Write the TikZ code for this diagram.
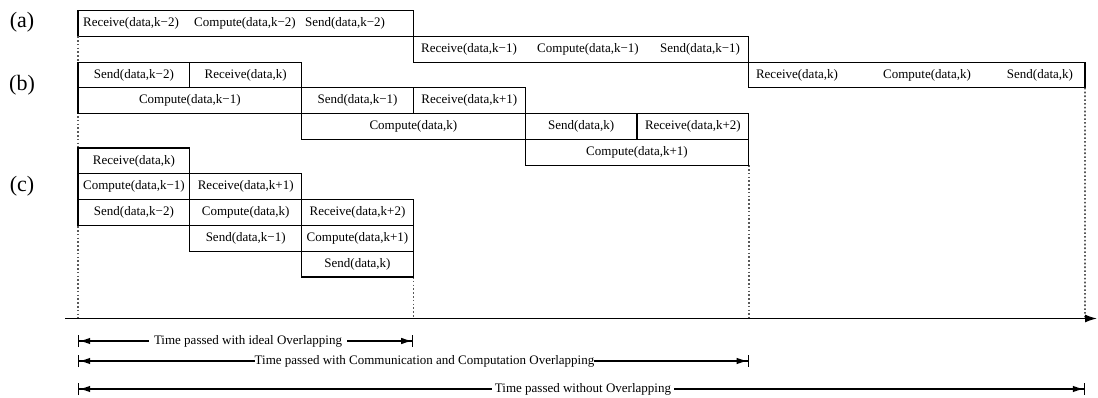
\documentclass[tikz,border=0pt]{standalone}
\usepackage{fontspec}
\setmainfont{Liberation Serif}
\usetikzlibrary{arrows.meta}
\begin{document}
\begin{tikzpicture}[x=1pt,y=-1pt,
  txt/.style={font=\fontsize{13}{15}\selectfont, inner sep=0pt},
  cell/.style={draw, line width=1.1pt, anchor=north west, minimum height=25.8pt,
    inner sep=0pt, outer sep=0pt, font=\fontsize{13}{15}\selectfont},
  one/.style={cell, minimum width=111.8pt},
  two/.style={cell, minimum width=223.6pt},
  three/.style={cell, minimum width=335.4pt},
  part/.style={font=\fontsize{22}{25}\selectfont, inner sep=0pt},
  guide/.style={line width=1.6pt, black!65, dash pattern=on 1.6pt off 2.2pt},
  axis/.style={line width=1.4pt, -{Latex[length=12pt,width=8pt]}},
  span/.style={line width=1.2pt,
    {Bar[width=12pt,line width=1.2pt]Latex[length=11pt,width=6.5pt]}-{Latex[length=11pt,width=6.5pt]Bar[width=12pt,line width=1.2pt]}},
  spanlbl/.style={txt, fill=white, inner ysep=2pt}
]
\useasboundingbox (0,0) rectangle (1098,398);

% time axis and the guide lines that drop onto it
\coordinate (tl0) at (65,318.5);
\coordinate (tl1) at (1097,318.5);
\coordinate (g0) at (78,318.5);
\coordinate (g1) at (413.4,318.5);
\coordinate (g2) at (748.8,318.5);
\coordinate (g3) at (1085,318.5);

% part labels
\node[part] (pa) at (22,22) {(a)};
\node[part] (pb) at (22,85) {(b)};
\node[part] (pc) at (22,186) {(c)};

% (a) no overlapping: one stage after the other
\node[three] (A1) at (78,10.5) {};
\node[three] (A2) at (413.4,36.3) {};
\node[cell, minimum width=336.2pt] (A3) at (748.8,62.1) {};
\node[txt] (a1r) at (131,23.4) {Receive(data,k−2)};
\node[txt] (a1c) at (245,23.4) {Compute(data,k−2)};
\node[txt] (a1s) at (345,23.4) {Send(data,k−2)};
\node[txt] (a2r) at (469,49.2) {Receive(data,k−1)};
\node[txt] (a2c) at (588,49.2) {Compute(data,k−1)};
\node[txt] (a2s) at (700,49.2) {Send(data,k−1)};
\node[txt] (a3r) at (797,75) {Receive(data,k)};
\node[txt] (a3c) at (927,75) {Compute(data,k)};
\node[txt] (a3s) at (1040,75) {Send(data,k)};

% guide lines (drawn before the boxes so the box edges stay solid)
\draw[guide] (A1.south west) -- (g0);
\draw[guide] (A3.south east) -- (g3);
\draw[guide] (748.8,165.3) -- (g2);
\draw[guide] (413.4,277) -- (g1);

% (b) communication overlapped with computation
\node[one] (b1) at (78,62.1) {Send(data,k−2)};
\node[one] (b2) at (189.8,62.1) {Receive(data,k)};
\node[two] (b3) at (78,87.9) {Compute(data,k−1)};
\node[one] (b4) at (301.6,87.9) {Send(data,k−1)};
\node[one] (b5) at (413.4,87.9) {Receive(data,k+1)};
\node[two] (b6) at (301.6,113.7) {Compute(data,k)};
\node[one] (b7) at (525.2,113.7) {Send(data,k)};
\node[one] (b8) at (637,113.7) {Receive(data,k+2)};
\node[two] (b9) at (525.2,139.5) {Compute(data,k+1)};

% (c) ideal overlapping
\node[one] (c1) at (78,148) {Receive(data,k)};
\node[one] (c2) at (78,173.8) {Compute(data,k−1)};
\node[one] (c3) at (189.8,173.8) {Receive(data,k+1)};
\node[one] (c4) at (78,199.6) {Send(data,k−2)};
\node[one] (c5) at (189.8,199.6) {Compute(data,k)};
\node[one] (c6) at (301.6,199.6) {Receive(data,k+2)};
\node[one] (c7) at (189.8,225.4) {Send(data,k−1)};
\node[one] (c8) at (301.6,225.4) {Compute(data,k+1)};
\node[one] (c9) at (301.6,251.2) {Send(data,k)};

\draw[axis] (tl0) -- (tl1);

% elapsed-time spans
\coordinate (m1s) at (78,341);
\coordinate (m1e) at (413.4,341);
\coordinate (m2s) at (78,361);
\coordinate (m2e) at (748.8,361);
\coordinate (m3s) at (78,389);
\coordinate (m3e) at (1085,389);
\draw[span] (m1s) -- (m1e);
\draw[span] (m2s) -- (m2e);
\draw[span] (m3s) -- (m3e);
\node[spanlbl, inner xsep=5pt] (t1) at (248,341) {Time passed with ideal Overlapping};
\node[spanlbl, inner xsep=0pt] (t2) at (424.5,361) {Time passed with Communication and Computation Overlapping};
\node[spanlbl, inner xsep=3pt] (t3) at (583,389) {Time passed without Overlapping};
\end{tikzpicture}
\end{document}
